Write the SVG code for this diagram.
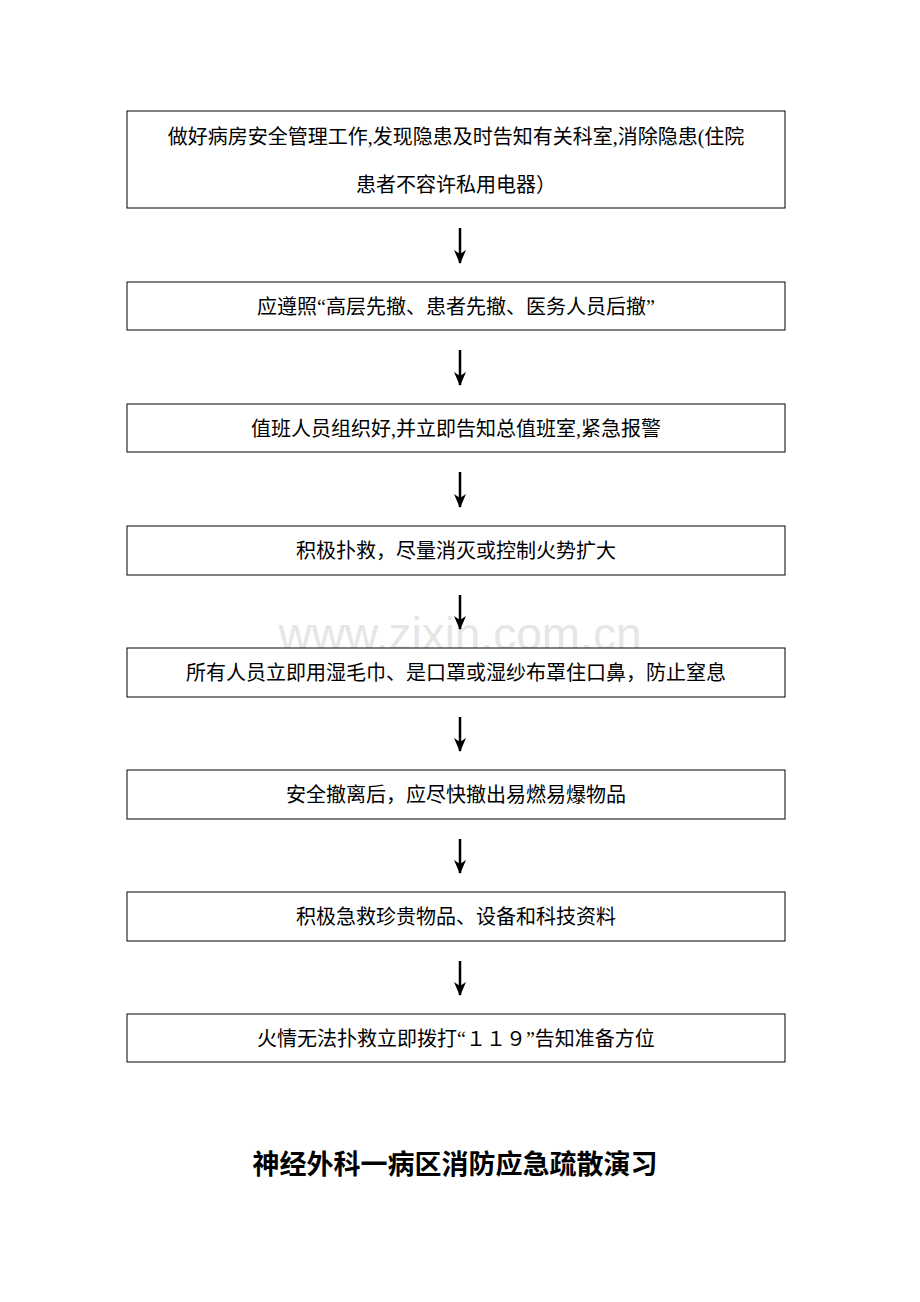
<svg xmlns="http://www.w3.org/2000/svg" width="920" height="1302" viewBox="0 0 920 1302">
<style>
.box{fill:#fff;stroke:#000;stroke-width:1}
.t{font-family:"Liberation Serif","Noto Sans CJK SC",serif;font-size:20px;fill:#000;text-anchor:middle}
.c{stroke:#000;stroke-width:2.5;fill:none}
</style>
<defs><marker id="ah" markerWidth="14" markerHeight="12" refX="13" refY="6" orient="auto" markerUnits="userSpaceOnUse"><path d="M0,0 L14,6 L0,12 L4,6 Z" fill="#000"/></marker></defs>
<rect width="920" height="1302" fill="#fff"/>
<text x="460" y="650" font-family="Liberation Sans,sans-serif" font-size="46" fill="#e6e6e6" text-anchor="middle">www.zixin.com.cn</text>
<g id="n1"><rect class="box" x="127" y="111" width="658" height="97"/><text class="t" x="456" y="144">做好病房安全管理工作,发现隐患及时告知有关科室,消除隐患(住院</text><text class="t" x="456" y="192">患者不容许私用电器）</text></g>
<g id="n2"><rect class="box" x="127" y="282" width="658" height="48"/><text class="t" x="456" y="314">应遵照“高层先撤、患者先撤、医务人员后撤”</text></g>
<g id="n3"><rect class="box" x="127" y="404" width="658" height="48"/><text class="t" x="456" y="436">值班人员组织好,并立即告知总值班室,紧急报警</text></g>
<g id="n4"><rect class="box" x="127" y="526" width="658" height="49"/><text class="t" x="456" y="558">积极扑救，尽量消灭或控制火势扩大</text></g>
<g id="n5"><rect class="box" x="127" y="648" width="658" height="49"/><text class="t" x="456" y="680">所有人员立即用湿毛巾、是口罩或湿纱布罩住口鼻，防止窒息</text></g>
<g id="n6"><rect class="box" x="127" y="770" width="658" height="49"/><text class="t" x="456" y="802">安全撤离后，应尽快撤出易燃易爆物品</text></g>
<g id="n7"><rect class="box" x="127" y="892" width="658" height="49"/><text class="t" x="456" y="924">积极急救珍贵物品、设备和科技资料</text></g>
<g id="n8"><rect class="box" x="127" y="1014" width="658" height="48"/><text class="t" x="456" y="1046">火情无法扑救立即拨打“１１９”告知准备方位</text></g>
<g id="connectors">
<line class="c" x1="460" y1="228" x2="460" y2="263" marker-end="url(#ah)"/>
<line class="c" x1="460" y1="350" x2="460" y2="385" marker-end="url(#ah)"/>
<line class="c" x1="460" y1="472" x2="460" y2="507" marker-end="url(#ah)"/>
<line class="c" x1="460" y1="595" x2="460" y2="629" marker-end="url(#ah)"/>
<line class="c" x1="460" y1="717" x2="460" y2="751" marker-end="url(#ah)"/>
<line class="c" x1="460" y1="839" x2="460" y2="873" marker-end="url(#ah)"/>
<line class="c" x1="460" y1="961" x2="460" y2="995" marker-end="url(#ah)"/>
</g>
<text x="455" y="1174" font-family="Noto Sans CJK SC,sans-serif" font-size="27" font-weight="bold" text-anchor="middle">神经外科一病区消防应急疏散演习</text>
</svg>
